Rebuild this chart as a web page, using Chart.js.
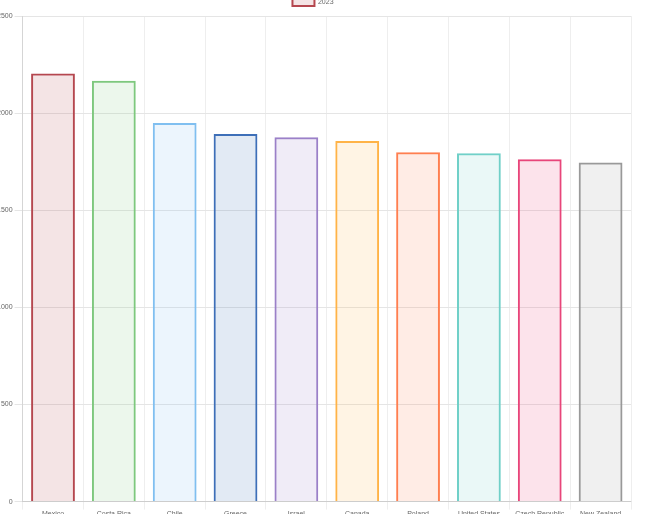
<!DOCTYPE html><html><head><script src="https://cdn.jsdelivr.net/npm/chart.js@4"></script>
<style>body{margin:0;background:#fff}#w{width:650px;height:514px}</style></head><body><div id="w"><canvas id="c"></canvas></div>
<script>
const categories=["Mexico","Costa Rica","Chile","Greece","Israel","Canada","Poland","United States","Czech Republic","New Zealand"];
const values2023=[2204,2167,1949,1892,1876,1856,1798,1793,1762,1746];
const borderColors=["#b5474f","#7ec87e","#80bff0","#3e6fb8","#9b80c8","#ffb347","#ff7f50","#70d0c8","#e8457a","#999999"];
const fillColors=["rgba(181,71,79,0.15)","rgba(126,200,126,0.15)","rgba(128,191,240,0.15)","rgba(62,111,184,0.15)","rgba(155,128,200,0.15)","rgba(255,179,71,0.15)","rgba(255,127,80,0.15)","rgba(112,208,200,0.15)","rgba(232,69,122,0.15)","rgba(153,153,153,0.15)"];
Chart.defaults.font.size=7;Chart.defaults.color="#666";
new Chart(document.getElementById('c'),{type:'bar',data:{labels:categories,datasets:[{label:'2023',data:values2023,backgroundColor:fillColors,borderColor:borderColors,borderWidth:2}]},
options:{responsive:true,maintainAspectRatio:false,animation:false,layout:{padding:{left:-5,right:19,bottom:-4,top:-3}},
plugins:{legend:{labels:{boxWidth:22,boxHeight:7,padding:2}}},
scales:{x:{grid:{color:'#eee'},ticks:{padding:0}},y:{min:0,max:2500,ticks:{stepSize:500,padding:2,callback:v=>String(v)},grid:{color:'#e5e5e5'}}}}});
</script></body></html>
